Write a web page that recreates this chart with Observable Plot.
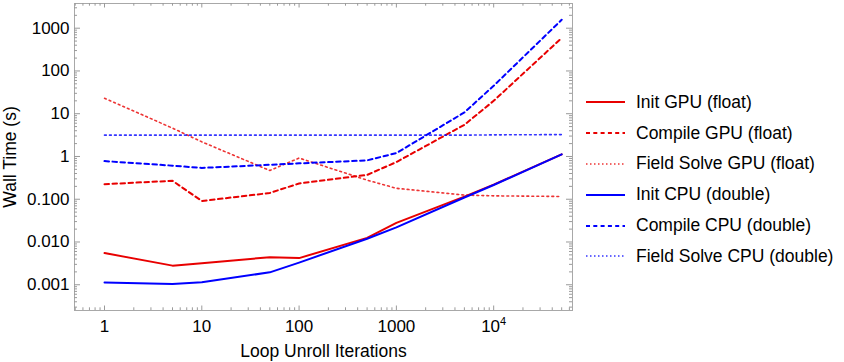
<!DOCTYPE html>
<html>
<head>
<meta charset="utf-8">
<script src="https://cdn.jsdelivr.net/npm/d3@7"></script>
<script src="https://cdn.jsdelivr.net/npm/@observablehq/plot@0.6"></script>
<style>
  html, body { margin: 0; padding: 0; background: #fff; }
  #wrap { position: relative; width: 844px; height: 362px; font-family: "Liberation Sans", Arial, sans-serif; }
  #legend { position: absolute; left: 586px; top: 87px; }
  .row { display: flex; align-items: center; height: 30.8px; font-size: 17.5px; color: #000; white-space: nowrap; }
  .row svg { margin-right: 11px; }
</style>
</head>
<body>
<div id="wrap"><div id="legend"></div></div>
<script>
// ---- data ----
const iterations   = [1, 5, 10, 50, 100, 500, 1000, 5000, 10000, 50000];
const initGPU      = [0.0055, 0.0028, 0.0032, 0.0044, 0.0042, 0.0125, 0.028, 0.115, 0.22, 1.12];
const compileGPU   = [0.225, 0.27, 0.091, 0.14, 0.234, 0.37, 0.74, 5.5, 20, 590];
const fieldGPU     = [23, 4.6, 2.2, 0.47, 0.92, 0.28, 0.18, 0.125, 0.12, 0.116];
const initCPU      = [0.00113, 0.00104, 0.00115, 0.00195, 0.0033, 0.0119, 0.022, 0.11, 0.215, 1.12];
const compileCPU   = [0.78, 0.61, 0.54, 0.64, 0.69, 0.81, 1.2, 10.7, 45, 1570];
const fieldCPU     = [3.15, 3.15, 3.15, 3.15, 3.15, 3.15, 3.15, 3.15, 3.2, 3.25];

const seriesNames  = ["Init GPU (float)", "Compile GPU (float)", "Field Solve GPU (float)",
                      "Init CPU (double)", "Compile CPU (double)", "Field Solve CPU (double)"];
const seriesValues = [initGPU, compileGPU, fieldGPU, initCPU, compileCPU, fieldCPU];
const seriesColors = ["#e80000", "#e80000", "#e80000", "#0000ff", "#0000ff", "#0000ff"];
const seriesStyles = ["solid", "dashed", "dotted", "solid", "dashed", "dotted"];

const xMajorTicks  = [1, 10, 100, 1000, 10000];
const xTickLabels  = ["1", "10", "100", "1000", "10^4"];
const yMajorTicks  = [0.001, 0.01, 0.1, 1, 10, 100, 1000];
const yTickLabels  = ["0.001", "0.010", "0.100", "1", "10", "100", "1000"];
const xLabel = "Loop Unroll Iterations";
const yLabel = "Wall Time (s)";

// minor tick positions (2..9 within each decade)
const mult = [2, 3, 4, 5, 6, 7, 8, 9];
const xMinorTicks = [0.1, 1, 10, 100, 1000, 10000].flatMap(d => mult.map(m => m * d)).filter(v => v > 0.49 && v < 64000);
const yMinorTicks = [0.0001, 0.001, 0.01, 0.1, 1, 10, 100, 1000].flatMap(d => mult.map(m => m * d)).filter(v => v > 0.00025 && v < 3700);

// ---- layout ----
const W = 844, H = 362;
const mL = 74, mR = 272, mT = 3, mB = 52;
const pw = W - mL - mR, ph = H - mT - mB;

const styleFor = s => s === "dashed" ? {strokeWidth: 2, strokeDasharray: "4.5,3.5"}
                   : s === "dotted" ? {strokeWidth: 1.6, strokeDasharray: "1.8,3.2", strokeOpacity: 0.8}
                   : {strokeWidth: 2};

const rows = seriesNames.map((name, i) => iterations.map((x, j) => ({x, y: seriesValues[i][j], series: name})));

const tickColor = "#9a9a9a";
const marks = [
  Plot.frame({stroke: "#a8a8a8"}),
  // bottom / top ticks
  Plot.tickX(xMajorTicks, {stroke: tickColor, insetTop: ph - 4.5}),
  Plot.tickX(xMinorTicks, {stroke: tickColor, insetTop: ph - 2.7}),
  Plot.tickX(xMajorTicks, {stroke: tickColor, insetBottom: ph - 4.5}),
  Plot.tickX(xMinorTicks, {stroke: tickColor, insetBottom: ph - 2.7}),
  // left / right ticks
  Plot.tickY(yMajorTicks, {stroke: tickColor, insetRight: pw - 6}),
  Plot.tickY(yMinorTicks, {stroke: tickColor, insetRight: pw - 3}),
  Plot.tickY(yMajorTicks, {stroke: tickColor, insetLeft: pw - 6}),
  Plot.tickY(yMinorTicks, {stroke: tickColor, insetLeft: pw - 3}),
  Plot.axisX({ticks: xMajorTicks, tickSize: 0, tickPadding: 9,
    tickFormat: d => xTickLabels[xMajorTicks.indexOf(d)],
    label: xLabel, labelAnchor: "center", labelOffset: 46, labelArrow: "none", fontSize: 17}),
  Plot.axisY({ticks: yMajorTicks, tickSize: 0, tickPadding: 5,
    tickFormat: d => yTickLabels[yMajorTicks.indexOf(d)],
    label: yLabel, labelAnchor: "center", labelOffset: 71, labelArrow: "none", fontSize: 17}),
  ...rows.map((data, i) => Plot.line(data, {x: "x", y: "y", stroke: seriesColors[i], ...styleFor(seriesStyles[i])}))
];

const chart = Plot.plot({
  width: W, height: H,
  marginLeft: mL, marginRight: mR, marginTop: mT, marginBottom: mB,
  style: {fontFamily: "Liberation Sans, Arial, sans-serif", fontSize: "17px", color: "#000", background: "#fff"},
  x: {type: "log", domain: [0.4915, 64600]},
  y: {type: "log", domain: [0.00025, 3780]},
  marks
});

// superscript for 10^4
d3.select(chart).selectAll("text").each(function () {
  const t = d3.select(this);
  const tspans = t.selectAll("tspan");
  const target = tspans.size() ? tspans.filter(function () { return d3.select(this).text() === "10^4"; }) : (t.text() === "10^4" ? t : null);
  if (target && target.size && target.size()) {
    target.text("10");
    target.append("tspan").attr("dy", "-7").attr("font-size", "11").text("4");
  } else if (t.text() === "10^4") {
    t.text("10");
    t.append("tspan").attr("dy", "-7").attr("font-size", "11").text("4");
  }
});
d3.select(chart).selectAll("text").filter(function(){ return this.textContent === xLabel || this.textContent === yLabel; })
  .attr("font-size", "17.5");

document.getElementById("wrap").prepend(chart);

// legend
const legend = document.getElementById("legend");
seriesNames.forEach((name, i) => {
  const row = document.createElement("div");
  row.className = "row";
  const st = seriesStyles[i];
  const dash = st === "dashed" ? "4,3.3" : st === "dotted" ? "1.5,2.5" : "none";
  const sw = st === "dotted" ? 1.6 : 2;
  const op = st === "dotted" ? 0.8 : 1;
  row.innerHTML = `<svg width="39" height="6"><line x1="0" x2="39" y1="3" y2="3" stroke="${seriesColors[i]}" stroke-width="${sw}" stroke-dasharray="${dash}" stroke-opacity="${op}"/></svg><span>${name}</span>`;
  legend.appendChild(row);
});
</script>
</body>
</html>
